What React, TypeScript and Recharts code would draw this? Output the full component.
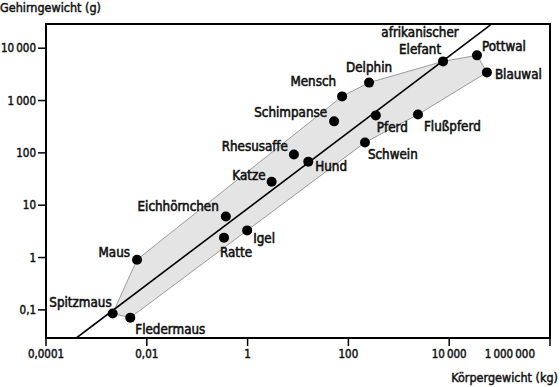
import { ScatterChart, Scatter, XAxis, YAxis, ReferenceArea } from "recharts";

// Körpergewicht (kg) und Gehirngewicht (g)
const animals = [
  "Spitzmaus",
  "Fledermaus",
  "Maus",
  "Eichhörnchen",
  "Ratte",
  "Igel",
  "Katze",
  "Rhesusaffe",
  "Hund",
  "Schimpanse",
  "Mensch",
  "Delphin",
  "Pferd",
  "Schwein",
  "Flußpferd",
  "afrikanischer Elefant",
  "Pottwal",
  "Blauwal",
];
const bodyWeightKg = [
  0.0021, 0.0047, 0.0064, 0.37, 0.34, 0.98, 3.0, 8.3, 16, 52, 75, 257, 350, 213,
  2400, 7550, 35600, 56000,
];
const brainWeightG = [
  0.085, 0.071, 0.91, 6.1, 2.4, 3.3, 28, 93, 68, 400, 1200, 2200, 520, 158, 540,
  5600, 7300, 3450,
];

// Umriss der grauen Fläche (Reihenfolge der Eckpunkte)
const hullOrder = [
  "Maus",
  "Mensch",
  "Delphin",
  "afrikanischer Elefant",
  "Pottwal",
  "Blauwal",
  "Flußpferd",
  "Schwein",
  "Igel",
  "Fledermaus",
  "Spitzmaus",
];

// Regressionsgerade
const fitBodyKg = [0.0004, 66000];
const fitBrainG = [0.029, 28000];

const xTicks = [0.0001, 0.01, 1, 100, 10000, 1000000];
const yTicks = [0.1, 1, 10, 100, 1000, 10000];

const points = animals.map((name, i) => ({
  name,
  x: bodyWeightKg[i],
  y: brainWeightG[i],
}));
const hull = hullOrder.map((n) => points.find((p) => p.name === n)!);
const fit = fitBodyKg.map((x, i) => ({ x, y: fitBrainG[i] }));

// label offset from dot centre: dx, dy, anchor
const labelPos: Record<string, [number, number, "start" | "middle" | "end"]> = {
  Spitzmaus: [-1, -11, "end"],
  Fledermaus: [5, 12, "start"],
  Maus: [-7, -7, "end"],
  Eichhörnchen: [-7, -10, "end"],
  Ratte: [-4, 15, "start"],
  Igel: [6, 8, "start"],
  Katze: [-6, -7, "end"],
  Rhesusaffe: [-6, -8, "end"],
  Hund: [7, 5, "start"],
  Schimpanse: [-7, -9, "end"],
  Mensch: [-6, -15, "end"],
  Delphin: [0, -15, "middle"],
  Pferd: [1, 12, "start"],
  Schwein: [3, 12, "start"],
  Flußpferd: [6, 12, "start"],
  "afrikanischer Elefant": [-23, -12, "middle"],
  Pottwal: [5, -9, "start"],
  Blauwal: [8, 2, "start"],
};

const FONT = "'DejaVu Sans Condensed', 'DejaVu Sans', sans-serif";

const fmt = (n: number) =>
  n < 1
    ? String(n).replace(".", ",")
    : String(n).replace(/\B(?=(\d{3})+(?!\d))/g, "\u2009");

// thin outline makes the regular face look semibold without widening it
const heavy = { stroke: "#111", strokeWidth: 0.45, paintOrder: "stroke" } as const;

const XTick = (props: any) => {
  const { x, y, payload } = props;
  const last = payload.value === 1000000;
  return (
    <text
      x={last ? x + 3 : x}
      y={y + 10}
      textAnchor={last ? "end" : "middle"}
      fontSize={11.5}
      fontFamily={FONT}
      fill="#111"
      {...heavy}
    >
      {fmt(payload.value)}
    </text>
  );
};

const YTick = (props: any) => {
  const { x, y, payload } = props;
  return (
    <text
      x={x}
      y={y + 4}
      textAnchor="end"
      fontSize={11.5}
      fontFamily={FONT}
      fill="#111"
      {...heavy}
    >
      {fmt(payload.value)}
    </text>
  );
};

const Dot = (props: any) => {
  const { cx, cy, payload } = props;
  const [dx, dy, anchor] = labelPos[payload.name] || [6, 0, "start"];
  const words = payload.name === "afrikanischer Elefant" ? ["afrikanischer", "Elefant"] : [payload.name];
  return (
    <g>
      <circle cx={cx} cy={cy} r={5} fill="#000" />
      {words.map((w: string, i: number) => (
        <text
          key={w}
          x={cx + dx}
          y={cy + dy + 4.8 - (words.length - 1 - i) * 17}
          textAnchor={anchor}
          fontSize={13.3}
          fontFamily={FONT}
          fill="#111"
          {...heavy}
          strokeWidth={0.55}
        >
          {w}
        </text>
      ))}
    </g>
  );
};

const HullShape = (props: any) => {
  const pts = (props.points || []).map((p: any) => `${p.x},${p.y}`).join(" ");
  return <polygon points={pts} fill="#e4e4e4" stroke="#9a9a9a" strokeWidth={1} />;
};

const Nothing = () => <g />;

const titleStyle = {
  position: "absolute" as const,
  fontSize: 12.5,
  color: "#111",
  lineHeight: "16px",
  WebkitTextStroke: "0.45px #111",
};

export default function App() {
  return (
    <div style={{ position: "relative", width: 560, height: 387, background: "#fff", fontFamily: FONT }}>
      <style>{`body{margin:0}`}</style>
      <ScatterChart
        width={560}
        height={387}
        margin={{ top: 24, right: 10, bottom: 19, left: 0 }}
      >
        <XAxis
          type="number"
          dataKey="x"
          scale="log"
          domain={[0.0001, 1000000]}
          ticks={xTicks}
          allowDataOverflow
          height={30}
          tick={<XTick />}
          tickSize={8}
          axisLine={{ stroke: "#000", strokeWidth: 2 }}
          tickLine={{ stroke: "#000", strokeWidth: 1.5 }}
        />
        <YAxis
          type="number"
          dataKey="y"
          scale="log"
          domain={[0.029, 29000]}
          ticks={yTicks}
          allowDataOverflow
          width={46}
          tick={<YTick />}
          tickSize={8}
          axisLine={{ stroke: "#000", strokeWidth: 2 }}
          tickLine={{ stroke: "#000", strokeWidth: 1.5 }}
        />
        <ReferenceArea
          x1={0.0001}
          x2={1000000}
          y1={0.029}
          y2={29000}
          fill="none"
          stroke="#000"
          strokeWidth={2}
          ifOverflow="visible"
        />
        <Scatter
          data={hull}
          line={HullShape}
          shape={Nothing}
          isAnimationActive={false}
        />
        <Scatter
          data={fit}
          line={{ stroke: "#000", strokeWidth: 1.6 }}
          shape={Nothing}
          isAnimationActive={false}
        />
        <Scatter data={points} shape={Dot} isAnimationActive={false} />
      </ScatterChart>
      <div style={{ ...titleStyle, left: 0, top: 0 }}>Gehirngewicht (g)</div>
      <div style={{ ...titleStyle, right: 2, top: 370 }}>Körpergewicht (kg)</div>
    </div>
  );
}
